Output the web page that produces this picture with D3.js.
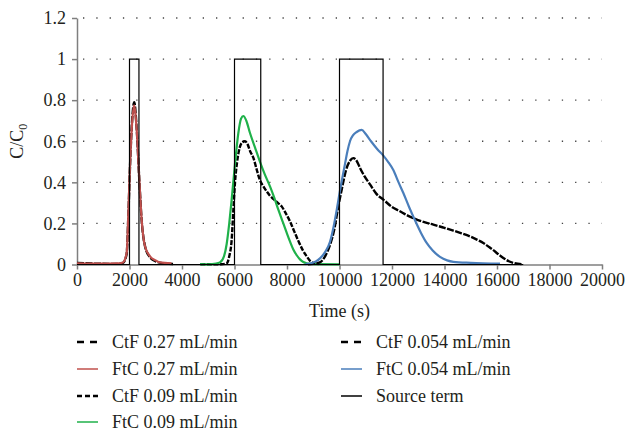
<!DOCTYPE html>
<html>
<head>
<meta charset="utf-8">
<script src="https://cdn.jsdelivr.net/npm/d3@7"></script>
<style>
  body { margin: 0; background: #fff; }
  text { font-family: "Liberation Serif", "DejaVu Serif", serif; fill: #231f20; }
</style>
</head>
<body>
<div id="chart"></div>
<script>
// data: [time (s), C/C0]
var ctf027 = [[0,0.008],[300,0.006],[800,0.004],[1500,0.003],[1750,0.008],[1890,0.05],[1960,0.25],[2020,0.48],[2090,0.68],[2180,0.79],[2270,0.67],[2370,0.42],[2460,0.22],[2590,0.09],[2780,0.035],[3000,0.015],[3300,0.006],[3700,0.002]];
var ftc027 = [[0,0.005],[500,0.004],[1000,0.004],[1500,0.005],[1750,0.01],[1893,0.057],[1956,0.25],[2019,0.477],[2083,0.655],[2171,0.775],[2274,0.655],[2375,0.41],[2463,0.218],[2590,0.089],[2781,0.04],[3000,0.02],[3162,0.01],[3600,0.005]];
var ctf009 = [[4700,0.001],[5500,0.001],[5700,0.005],[5800,0.04],[5892,0.12],[5950,0.25],[6019,0.4],[6100,0.5],[6200,0.57],[6300,0.595],[6400,0.6],[6500,0.585],[6600,0.55],[6717,0.52],[6850,0.46],[6971,0.41],[7100,0.38],[7225,0.356],[7350,0.335],[7479,0.319],[7650,0.3],[7797,0.283],[7950,0.25],[8114,0.21],[8280,0.16],[8432,0.115],[8600,0.07],[8749,0.04],[8900,0.015],[9067,0.005],[9200,0.002]];
var ftc009 = [[4690,0.002],[5000,0.001],[5300,0.004],[5448,0.01],[5600,0.04],[5702,0.1],[5800,0.2],[5892,0.316],[6019,0.49],[6146,0.64],[6250,0.71],[6337,0.723],[6450,0.7],[6590,0.64],[6780,0.57],[6971,0.5],[7150,0.44],[7352,0.38],[7500,0.33],[7670,0.267],[7830,0.21],[7987,0.155],[8120,0.11],[8241,0.073],[8370,0.045],[8495,0.025],[8620,0.012],[8749,0.006],[9000,0.002],[10000,0.001]];
var ctf0054 = [[8800,0.001],[9000,0.003],[9250,0.01],[9450,0.04],[9650,0.1],[9800,0.17],[9950,0.28],[10083,0.364],[10250,0.46],[10400,0.505],[10527,0.518],[10650,0.505],[10800,0.465],[10950,0.43],[11162,0.39],[11400,0.345],[11670,0.316],[12000,0.28],[12305,0.259],[12600,0.238],[12876,0.222],[13200,0.207],[13575,0.194],[13950,0.18],[14337,0.165],[14650,0.152],[14971,0.137],[15250,0.12],[15479,0.105],[15700,0.085],[15860,0.07],[16050,0.05],[16241,0.032],[16450,0.016],[16622,0.008],[16990,0.001]];
var ftc0054 = [[8700,0.002],[8876,0.005],[9100,0.015],[9257,0.03],[9450,0.06],[9638,0.11],[9800,0.2],[9900,0.27],[10019,0.36],[10120,0.43],[10210,0.49],[10300,0.55],[10400,0.6],[10520,0.63],[10654,0.645],[10845,0.655],[11000,0.635],[11200,0.6],[11450,0.56],[11670,0.53],[11850,0.5],[12050,0.46],[12250,0.4],[12432,0.348],[12650,0.28],[12876,0.215],[13100,0.155],[13321,0.105],[13550,0.068],[13829,0.037],[14100,0.02],[14337,0.013],[15000,0.008],[16114,0.004]];

// source term pulses (start, end) at C/C0 = 1
var pulseStart = [2000, 6000, 10000];
var pulseEnd = [2360, 7000, 11660];
var sourceEndTime = 17000;

var xTicks = [0, 2000, 4000, 6000, 8000, 10000, 12000, 14000, 16000, 18000, 20000];
var yTicks = [0, 0.2, 0.4, 0.6, 0.8, 1, 1.2];

var series = [
  { name: "CtF 0.27 mL/min", data: ctf027, color: "#000", dash: "7,1.5", legendDash: "7,6", width: 2.4 },
  { name: "FtC 0.27 mL/min", data: ftc027, color: "#c0504d", dash: null, width: 2.2 },
  { name: "CtF 0.09 mL/min", data: ctf009, color: "#000", dash: "5,1.5", legendDash: "5,3", width: 2.4 },
  { name: "FtC 0.09 mL/min", data: ftc009, color: "#1fb14a", dash: null, width: 2.2 },
  { name: "CtF 0.054 mL/min", data: ctf0054, color: "#000", dash: "7,1.5", legendDash: "7,6", width: 2.4 },
  { name: "FtC 0.054 mL/min", data: ftc0054, color: "#4a7ebb", dash: null, width: 2.2 }
];

var width = 627, height = 432;
var margin = { left: 77, right: 602, top: 18, bottom: 264.5 };
var fontSize = 18;

var svg = d3.select("#chart").append("svg")
  .attr("width", width)
  .attr("height", height);

var x = d3.scaleLinear().domain([0, 20000]).range([margin.left, margin.right]);
var y = d3.scaleLinear().domain([0, 1.2]).range([margin.bottom, margin.top]);

// dotted gridlines
svg.append("g")
  .selectAll("line")
  .data(yTicks.slice(1))
  .join("line")
  .attr("x1", margin.left + 6)
  .attr("x2", margin.right)
  .attr("y1", d => y(d))
  .attr("y2", d => y(d))
  .attr("stroke", "#444")
  .attr("stroke-width", 1.3)
  .attr("stroke-dasharray", "1.3,12");

// axes
var xAxis = svg.append("g")
  .attr("transform", "translate(0," + margin.bottom + ")")
  .call(d3.axisBottom(x).tickValues(xTicks).tickFormat(d3.format("d")).tickSize(5).tickSizeOuter(0).tickPadding(4));
var yAxis = svg.append("g")
  .attr("transform", "translate(" + margin.left + ",0)")
  .call(d3.axisLeft(y).tickValues(yTicks).tickFormat(d3.format("")).tickSize(5).tickSizeOuter(0).tickPadding(6));

[xAxis, yAxis].forEach(function (a) {
  a.selectAll("path, line").attr("stroke", "#7f7f7f").attr("stroke-width", 1.5);
  a.selectAll("text").attr("font-size", fontSize).attr("fill", "#231f20")
    .style("font-family", "'Liberation Serif', serif");
});

// curves
var line = d3.line()
  .x(d => x(d[0]))
  .y(d => y(d[1]))
  .curve(d3.curveMonotoneX);

svg.append("g")
  .selectAll("path")
  .data(series)
  .join("path")
  .attr("d", d => line(d.data))
  .attr("fill", "none")
  .attr("stroke", d => d.color)
  .attr("stroke-width", d => d.width)
  .attr("stroke-dasharray", d => d.dash)
  .attr("stroke-linejoin", "round");

// source term
var sourcePts = [[0, 0]];
pulseStart.forEach(function (s, i) {
  sourcePts.push([s, 0], [s, 1], [pulseEnd[i], 1], [pulseEnd[i], 0]);
});
sourcePts.push([sourceEndTime, 0]);

svg.append("path")
  .attr("d", d3.line().x(d => x(d[0])).y(d => y(d[1]))(sourcePts))
  .attr("fill", "none")
  .attr("stroke", "#000")
  .attr("stroke-width", 1.2);

// axis titles
svg.append("text")
  .attr("x", (margin.left + margin.right) / 2)
  .attr("y", 317)
  .attr("text-anchor", "middle")
  .attr("font-size", fontSize)
  .text("Time (s)");

var yTitle = svg.append("text")
  .attr("transform", "translate(23," + ((margin.top + margin.bottom) / 2) + ") rotate(-90)")
  .attr("text-anchor", "middle")
  .attr("font-size", fontSize);
yTitle.append("tspan").text("C/C");
yTitle.append("tspan").attr("font-size", 12).attr("dy", 4).text("0");

// legend
var legendItems = series.concat([{ name: "Source term", color: "#000", dash: null, width: 1.5 }]);
var legendPos = [
  [77, 342], [77, 369], [77, 396], [77, 422],
  [341, 342], [341, 369], [341, 396]
];

var legend = svg.append("g")
  .selectAll("g")
  .data(legendItems)
  .join("g")
  .attr("transform", (d, i) => "translate(" + legendPos[i][0] + "," + legendPos[i][1] + ")");

legend.append("line")
  .attr("x1", 0).attr("x2", 21)
  .attr("y1", 0).attr("y2", 0)
  .attr("stroke", d => d.color)
  .attr("stroke-width", d => d.dash ? 2.5 : 1.5)
  .attr("stroke-dasharray", d => d.legendDash || null);

legend.append("text")
  .attr("x", 35)
  .attr("y", 0)
  .attr("dy", "0.35em")
  .attr("font-size", fontSize)
  .text(d => d.name);
</script>
</body>
</html>
